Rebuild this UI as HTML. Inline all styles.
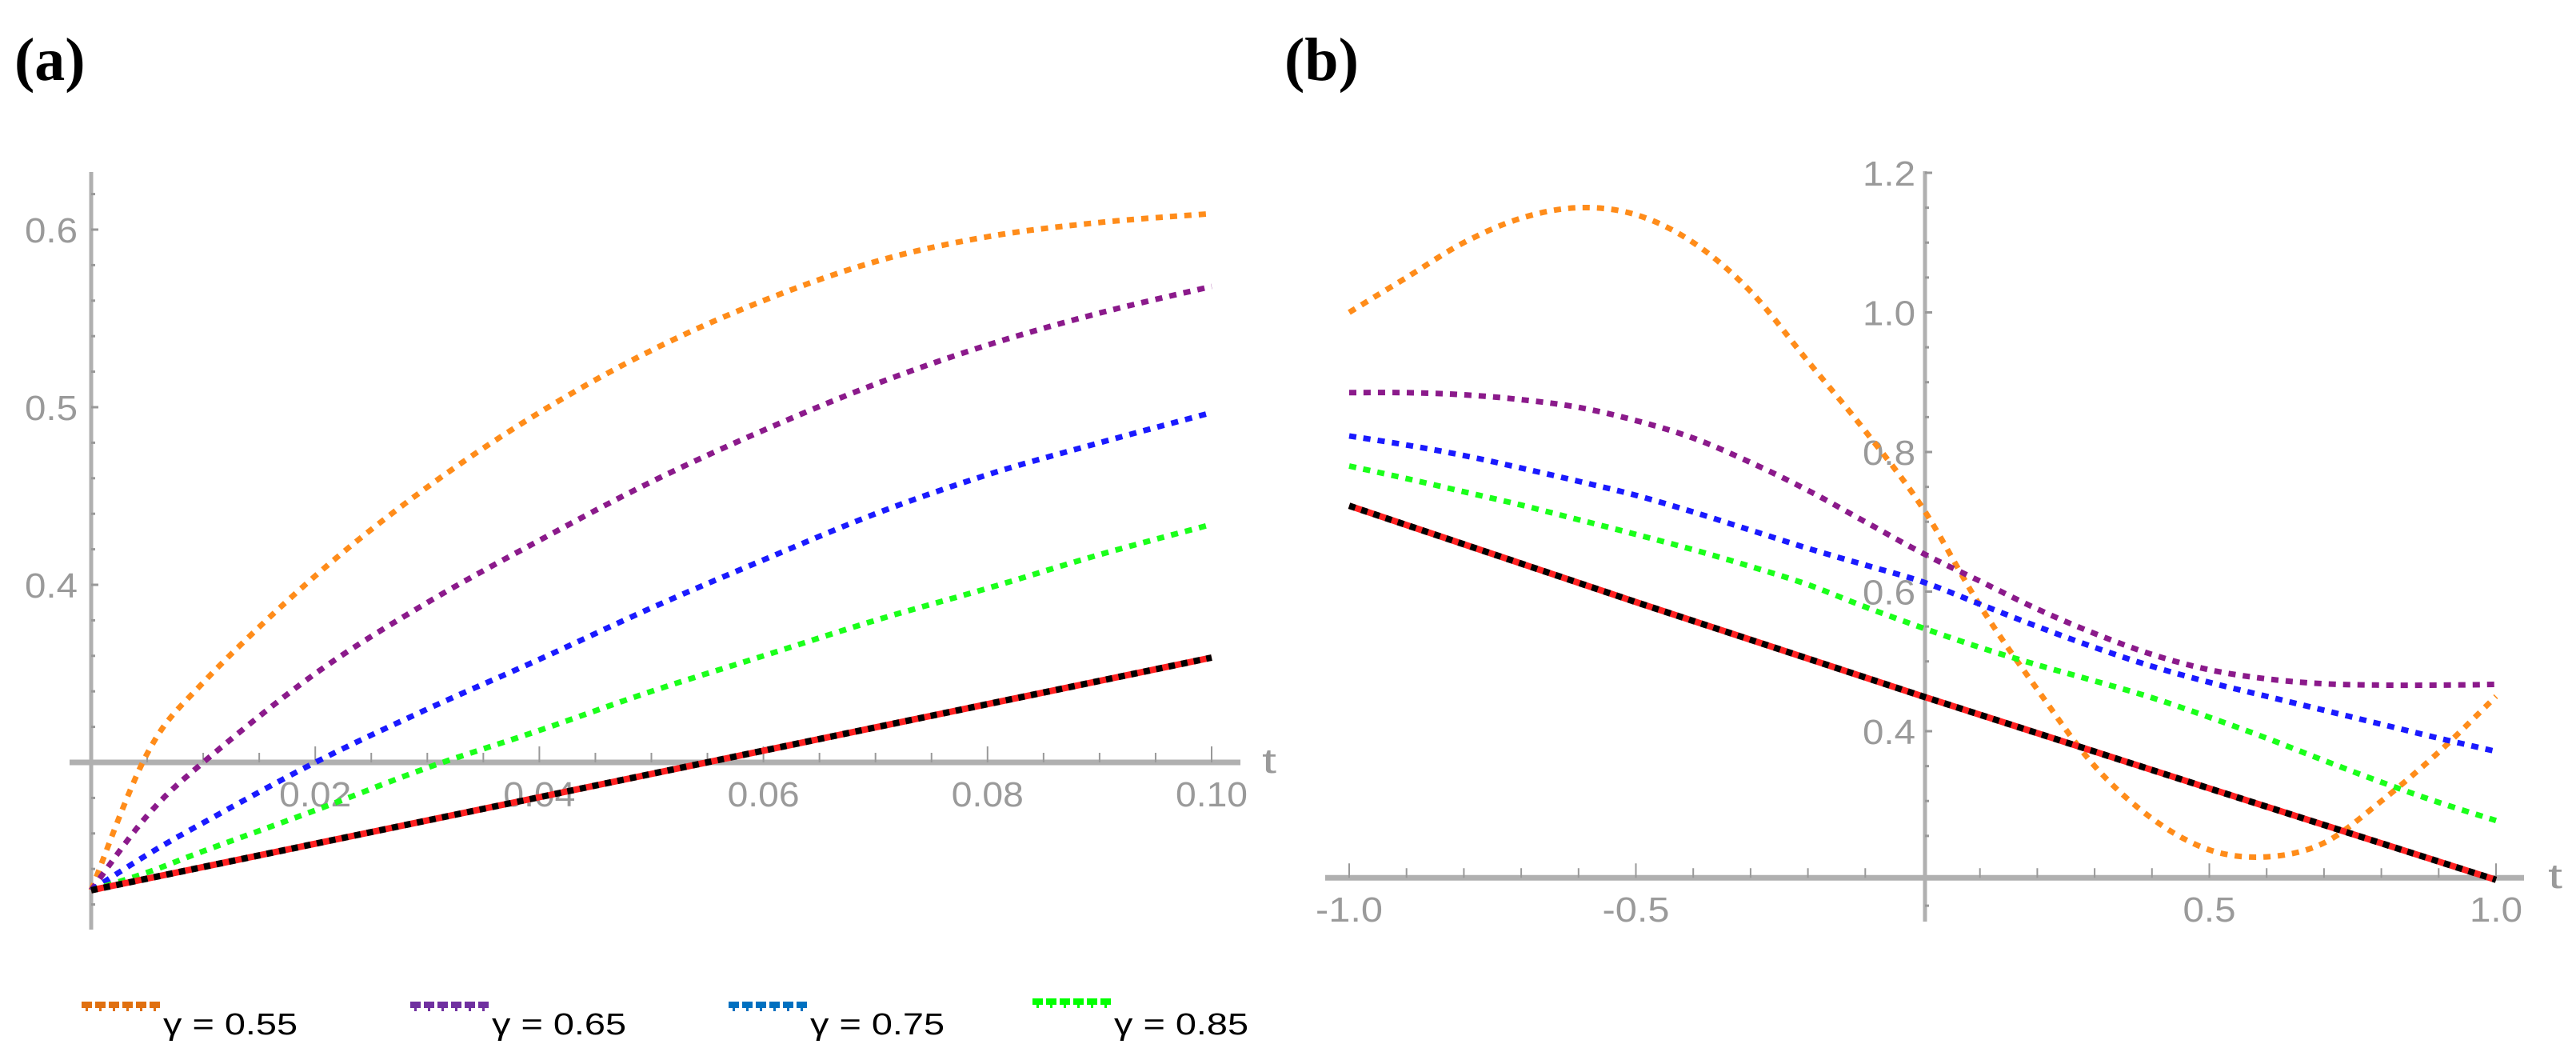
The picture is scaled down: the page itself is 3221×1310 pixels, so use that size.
<!DOCTYPE html>
<html><head><meta charset="utf-8"><style>
html,body{margin:0;padding:0;background:#fff;}
svg{display:block;}
</style></head><body>
<svg id="fig" width="3221" height="1310" viewBox="0 0 3221 1310" xmlns="http://www.w3.org/2000/svg">
<text x="18" y="100" font-family="Liberation Serif, serif" font-weight="bold" font-size="76">(a)</text>
<text x="1606" y="100" font-family="Liberation Serif, serif" font-weight="bold" font-size="76">(b)</text>
<g id="pa"></g>
<g id="pb"></g>
<g id="legend"></g>
</svg>
<script>
// ---- Panel (a) data ----
const tA = [0,0.005,0.01,0.02,0.03,0.04,0.05,0.06,0.07,0.08,0.09,0.1];
const aOrange = [0.228,0.305,0.345,0.405,0.455,0.497,0.532,0.56,0.582,0.596,0.604,0.609];
const aPurple = [0.228,0.27,0.30,0.35,0.39,0.425,0.458,0.487,0.513,0.535,0.553,0.568];
const aBlue   = [0.228,0.248,0.266,0.30,0.33,0.358,0.387,0.414,0.44,0.462,0.48,0.497];
const aGreen  = [0.228,0.238,0.25,0.273,0.297,0.318,0.34,0.36,0.38,0.398,0.417,0.434];
const tAExact = [0,0.1];
const aExact  = [0.228,0.359];
const aXTicks = ["0.02","0.04","0.06","0.08","0.10"];
const aYTicks = ["0.4","0.5","0.6"];
// ---- Panel (b) data ----
const tB = [-1,-0.9,-0.8,-0.7,-0.6,-0.5,-0.4,-0.3,-0.2,-0.1,0,0.1,0.2,0.3,0.4,0.5,0.6,0.7,0.8,0.9,1];
const bOrange = [1.0,1.05,1.10,1.135,1.15,1.14,1.10,1.03,0.93,0.83,0.72,0.58,0.46,0.35,0.275,0.23,0.22,0.24,0.30,0.37,0.45];
const bPurple = [0.885,0.885,0.882,0.875,0.864,0.845,0.82,0.785,0.745,0.70,0.655,0.615,0.575,0.54,0.51,0.488,0.475,0.468,0.466,0.466,0.467];
const bBlue   = [0.823,0.81,0.795,0.777,0.758,0.738,0.714,0.688,0.662,0.638,0.614,0.582,0.55,0.52,0.493,0.47,0.45,0.43,0.41,0.39,0.371];
const bGreen  = [0.78,0.762,0.743,0.724,0.703,0.682,0.66,0.636,0.61,0.578,0.548,0.52,0.495,0.472,0.448,0.42,0.39,0.358,0.327,0.298,0.272];
const tBExact = [-1,-0.5,0,0.5,1];
const bExact  = [0.723,0.585,0.45,0.318,0.187];
const bXTicks = ["-1.0","-0.5","0.5","1.0"];
const bYTicks = ["0.4","0.6","0.8","1.0","1.2"];
const gammas = ["0.55","0.65","0.75","0.85"];

const NS="http://www.w3.org/2000/svg";
function mk(tag, attrs, parent){const e=document.createElementNS(NS,tag);for(const k in attrs)e.setAttribute(k,attrs[k]);parent.appendChild(e);return e;}
const colors=["#ff8c1a","#8b1a8b","#1a1aff","#1aff1a"];
const legColors=["#e07010","#7030a0","#0070c0","#00ff00"];
const AX="#b0b0b0", LBL="#9a9a9a";

const ax = t => 114 + t*14010;
const ay = v => 731 - (v-0.4)*2220;
const bx = t => 2404 + t*717;
const by = v => 565 - (v-0.8)*872.5;

function smoothPath(pts){
  let d="M"+pts[0][0].toFixed(1)+","+pts[0][1].toFixed(1);
  for(let i=0;i<pts.length-1;i++){
    const p0=pts[Math.max(0,i-1)],p1=pts[i],p2=pts[i+1],p3=pts[Math.min(pts.length-1,i+2)];
    const c1=[p1[0]+(p2[0]-p0[0])/6,p1[1]+(p2[1]-p0[1])/6];
    const c2=[p2[0]-(p3[0]-p1[0])/6,p2[1]-(p3[1]-p1[1])/6];
    d+=" C"+c1[0].toFixed(1)+","+c1[1].toFixed(1)+" "+c2[0].toFixed(1)+","+c2[1].toFixed(1)+" "+p2[0].toFixed(1)+","+p2[1].toFixed(1);
  }
  return d;
}
function series(g, xs, ys, sx, sy, col, name){
  const d = smoothPath(xs.map((t,i)=>[sx(t),sy(ys[i])]));
  const p = mk("path",{d:d,fill:"none",stroke:col,"stroke-width":7,"stroke-dasharray":"9 9"},g);
  
  
}
function exact(g, xs, ys, sx, sy, name){
  const d = xs.map((t,i)=>(i?"L":"M")+sx(t).toFixed(1)+","+sy(ys[i]).toFixed(1)).join(" ");
  const p1 = mk("path",{d:d,fill:"none",stroke:"#ff2020","stroke-width":8},g);
  
  
  const p2 = mk("path",{d:d,fill:"none",stroke:"#000","stroke-width":8,"stroke-dasharray":"8 8"},g);
  
  
}
function txt(g, x, y, s, name, anchor, size, col){
  const e = mk("text",{x:x,y:y,"font-family":"Liberation Sans, sans-serif","font-size":size||30,fill:col||LBL,"text-anchor":anchor||"middle"},g);
  e.textContent=s;
  
  
  return e;
}
function tickTxt(g,x,y,s,name,anchor){
  const e=txt(g,x,y,s,name,anchor,44);
  let w=0; for(const c of s){w += (c>='0'&&c<='9')?24:18;}
  e.setAttribute("textLength",w);
  e.setAttribute("lengthAdjust","spacingAndGlyphs");
  return e;
}

// ---- Panel a axes ----
const pa=document.getElementById("pa");
const axl=mk("line",{x1:87,y1:ay(0.3),x2:1551,y2:ay(0.3),stroke:AX,"stroke-width":7},pa);

const ayl=mk("line",{x1:114,y1:215,x2:114,y2:1162,stroke:AX,"stroke-width":5},pa);

for(let i=1;i<=20;i++){const t=i*0.005;const major=i%4===0;
  const tk=mk("line",{x1:ax(t),y1:ay(0.3),x2:ax(t),y2:ay(0.3)-(major?20:12),stroke:"#999","stroke-width":2},pa);
  }
for(let i=0;i<=20;i++){const v=0.22+i*0.02; if(Math.abs(v-0.3)<1e-6)continue; const yy=ay(v); if(yy<215||yy>1162)continue;
  const major=Math.abs(v*10-Math.round(v*10))<1e-6;
  const tk=mk("line",{x1:114,y1:yy,x2:114+(major?9:5),y2:yy,stroke:"#999","stroke-width":3},pa);
  }
aXTicks.forEach(s=>tickTxt(pa,ax(parseFloat(s)),1008,s,'x-tick-label-a'));
aYTicks.forEach(s=>tickTxt(pa,64,ay(parseFloat(s))+16,s,'y-tick-label-a'));
tickTxt(pa,1587,966,"t",'x-axis-title-a');
series(pa,tA,aOrange,ax,ay,colors[0],'series-a-gamma-055');
series(pa,tA,aPurple,ax,ay,colors[1],'series-a-gamma-065');
series(pa,tA,aBlue,ax,ay,colors[2],'series-a-gamma-075');
series(pa,tA,aGreen,ax,ay,colors[3],'series-a-gamma-085');
exact(pa,tAExact,aExact,ax,ay,'series-a-exact');

// ---- Panel b axes ----
const pb=document.getElementById("pb");
const bxl=mk("line",{x1:1657,y1:by(0.19),x2:3156,y2:by(0.19),stroke:AX,"stroke-width":7},pb);

const byl=mk("line",{x1:2407,y1:214,x2:2407,y2:1152,stroke:AX,"stroke-width":5},pb);

for(let i=-10;i<=10;i++){if(i===0)continue;const t=i*0.1;const major=i%5===0;
  const tk=mk("line",{x1:bx(t),y1:by(0.19),x2:bx(t),y2:by(0.19)-(major?18:12),stroke:"#999","stroke-width":2},pb);
  }
for(let i=0;i<=21;i++){const v=0.15+i*0.05; const yy=by(v); if(Math.abs(v-0.19)<0.02)continue; if(yy<210||yy>1155)continue;
  const major=Math.abs(v*5-Math.round(v*5))<1e-6;
  const tk=mk("line",{x1:2407,y1:yy,x2:2407+(major?9:5),y2:yy,stroke:"#999","stroke-width":3},pb);
  }
bXTicks.forEach(s=>tickTxt(pb,bx(parseFloat(s)),1152,s,'x-tick-label-b'));
bYTicks.forEach(s=>tickTxt(pb,2362,by(parseFloat(s))+16,s,'y-tick-label-b'));
tickTxt(pb,3195,1110,"t",'x-axis-title-b');
series(pb,tB,bOrange,bx,by,colors[0],'series-b-gamma-055');
series(pb,tB,bPurple,bx,by,colors[1],'series-b-gamma-065');
series(pb,tB,bBlue,bx,by,colors[2],'series-b-gamma-075');
series(pb,tB,bGreen,bx,by,colors[3],'series-b-gamma-085');
exact(pb,tBExact,bExact,bx,by,'series-b-exact');

// ---- Legend ----
const lg=document.getElementById("legend");
const legX=[102,513,911,1291];
gammas.forEach((gm,i)=>{
  const g=mk("g",{},lg);
  
  
  const y0 = i===3?1248:1252;
  for(let k=0;k<6;k++){
    const x=legX[i]+k*17;
    mk("rect",{x:x,y:y0,width:13,height:8,fill:legColors[i]},g);
    mk("rect",{x:x+5,y:y0+8,width:3,height:4,fill:legColors[i]},g);
  }
  const t=txt(g,legX[i]+102,1293,"\u03b3 = "+gm,'legend-label','start',38,"#000");
  t.setAttribute("textLength","168");
  t.setAttribute("lengthAdjust","spacingAndGlyphs");
});
</script>
</body></html>
